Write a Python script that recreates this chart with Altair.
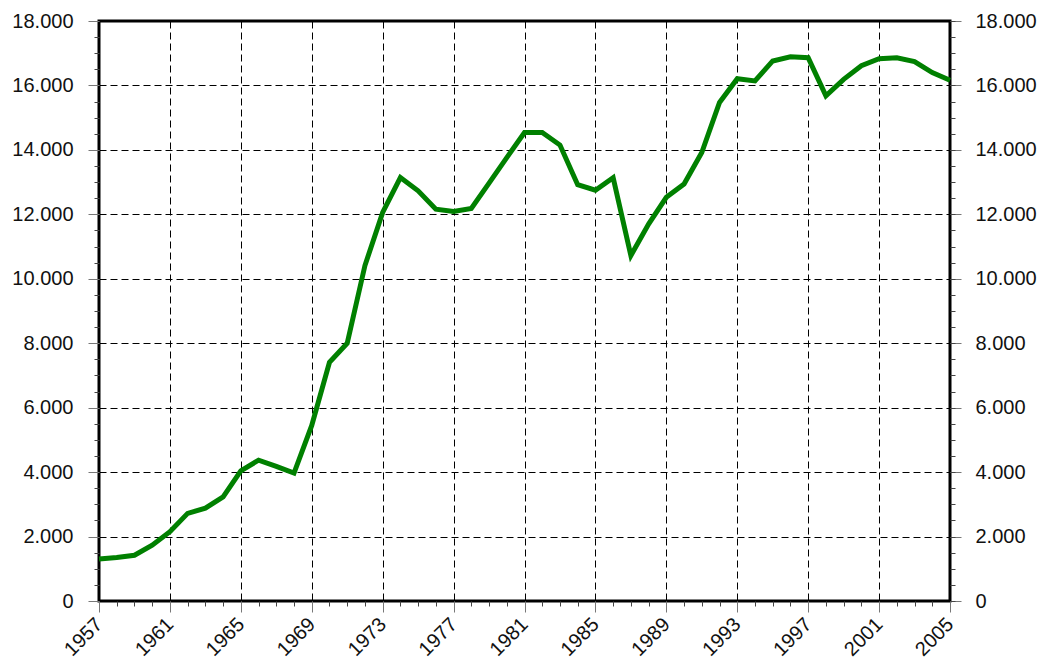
import altair as alt
import pandas as pd

years = list(range(1957, 2006))
values = [1300, 1350, 1420, 1730, 2150, 2720, 2880, 3230, 4040, 4370,
          4180, 3970, 5450, 7410, 8000, 10410, 12060, 13140, 12730, 12160,
          12090, 12180, 12970, 13760, 14540, 14540, 14150, 12920, 12750, 13140,
          10720, 11700, 12530, 12940, 13920, 15470, 16210, 16140, 16760, 16890,
          16860, 15680, 16190, 16610, 16830, 16860, 16740, 16400, 16160]

major_years = list(range(1957, 2006, 4))
minor_years = list(range(1957, 2006))
major_vals = list(range(0, 18001, 2000))
minor_vals = list(range(0, 18001, 500))

df = pd.DataFrame({"year": years, "value": values})

FONT = "Liberation Sans"
FS = 20
label_expr = "replace(format(datum.value, ','), ',', '.')"

xs = alt.Scale(domain=[1957, 2005], nice=False, zero=False)
ys = alt.Scale(domain=[0, 18000], nice=False)

common = dict(domain=False, title=None, labelFont=FONT, labelFontSize=FS,
              labelColor="#111", labelOverlap=False, labelFlush=False)

x_major = alt.Axis(orient="bottom", values=major_years, format="d", grid=True,
                   gridColor="black", gridDash=[7, 4], gridWidth=1,
                   tickSize=11, tickColor="#777", tickWidth=1,
                   labelAngle=315, labelAlign="right", labelBaseline="middle",
                   labelPadding=9, **common)
x_minor = alt.Axis(orient="bottom", values=minor_years, grid=False, labels=False,
                   tickSize=5, tickColor="#444", tickWidth=1, domain=False, title=None)
y_left = alt.Axis(orient="left", values=major_vals, labelExpr=label_expr, grid=True,
                  gridColor="black", gridDash=[7, 4], gridWidth=1,
                  tickSize=11, tickColor="#777", tickWidth=1, labelPadding=15,
                  **common)
y_right = alt.Axis(orient="right", values=major_vals, labelExpr=label_expr, grid=False,
                   tickSize=11, tickColor="#777", tickWidth=1, labelPadding=14,
                   **common)
y_left_minor = alt.Axis(orient="left", values=minor_vals, grid=False, labels=False,
                        tickSize=5, tickColor="#444", tickWidth=1, domain=False, title=None)
y_right_minor = alt.Axis(orient="right", values=minor_vals, grid=False, labels=False,
                         tickSize=5, tickColor="#444", tickWidth=1, domain=False, title=None)

base = alt.Chart(df)

main = base.mark_line(color="#008000", strokeWidth=5).encode(
    x=alt.X("year:Q", scale=xs, axis=x_major),
    y=alt.Y("value:Q", scale=ys, axis=y_left),
)
l2 = base.mark_line(strokeOpacity=0).encode(
    x=alt.X("year:Q", scale=xs, axis=x_minor),
    y=alt.Y("value:Q", scale=ys, axis=y_right),
)
l3 = base.mark_line(strokeOpacity=0).encode(
    x=alt.X("year:Q", scale=xs, axis=None),
    y=alt.Y("value:Q", scale=ys, axis=y_left_minor),
)
l4 = base.mark_line(strokeOpacity=0).encode(
    x=alt.X("year:Q", scale=xs, axis=None),
    y=alt.Y("value:Q", scale=ys, axis=y_right_minor),
)

chart = alt.layer(l2, l3, l4, main).resolve_axis(
    x="independent", y="independent"
).properties(
    width=851, height=580,
    autosize=alt.AutoSizeParams(type="none"),
    padding={"left": 91, "top": 13, "right": 90, "bottom": 60},
    background="white",
).configure_view(stroke="black", strokeWidth=3)

chart.save("out.html", embed_options={"renderer": "svg", "actions": False})
